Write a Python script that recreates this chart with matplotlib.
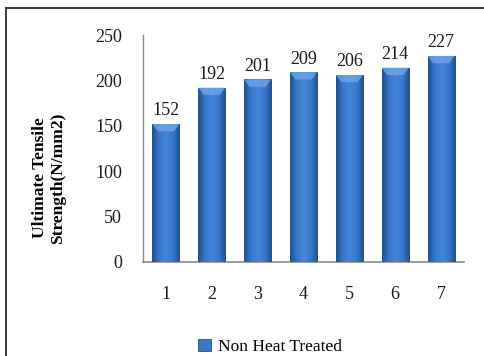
import matplotlib
matplotlib.use("Agg")
import matplotlib.pyplot as plt
import numpy as np
from matplotlib.lines import Line2D
from matplotlib.colors import LinearSegmentedColormap

plt.rcParams['font.family'] = ['Liberation Serif', 'DejaVu Serif']

categories = ["1", "2", "3", "4", "5", "6", "7"]
values = [152, 192, 201, 209, 206, 214, 227]
series_name = "Non Heat Treated"
y_ticks = [0, 50, 100, 150, 200, 250]
y_label = "Ultimate Tensile\nStrength(N/mm2)"

W, H = 485, 356
fig = plt.figure(figsize=(W / 100, H / 100), dpi=100)

# outer chart border (top and left edges visible)
fig.add_artist(Line2D([6 / W, 1.0], [1 - 8 / H, 1 - 8 / H], transform=fig.transFigure,
                      color="#3a3a3a", lw=1.4))
fig.add_artist(Line2D([6.5 / W, 6.5 / W], [0, 1 - 8 / H], transform=fig.transFigure,
                      color="#3a3a3a", lw=1.4))

ax = fig.add_axes([143 / W, (H - 262) / H, (464 - 143) / W, (262 - 35) / H])
x = np.arange(len(categories))
bw = 0.59
bars = ax.bar(x, values, width=bw, color="#3a78c8", edgecolor="#234f8c", linewidth=0.6, zorder=2)

# horizontal shading across each bar
cmap = LinearSegmentedColormap.from_list("barshade", ["#22508c", "#3878cc", "#4486da", "#3878cc", "#22508c"])
grad = np.linspace(0, 1, 64).reshape(1, -1)
for b in bars:
    x0, y0 = b.get_x(), b.get_y()
    w, h = b.get_width(), b.get_height()
    im = ax.imshow(grad, cmap=cmap, extent=[x0, x0 + w, y0, y0 + h], aspect="auto", zorder=3)
    im.set_clip_path(b)
    # light bevel at the top
    ax.fill([x0, x0 + w, x0 + w * 0.8, x0 + w * 0.2],
            [y0 + h, y0 + h, y0 + h - 8, y0 + h - 8],
            color="#6fa6ea", alpha=0.8, zorder=4, lw=0)

for xi, v in zip(x, values):
    ax.text(xi, v + 5, str(v), ha="center", va="bottom", fontsize=13, color="#1a1a1a")

ax.set_xlim(-0.5, len(categories) - 0.5)
ax.set_ylim(0, 250)
ax.set_yticks(y_ticks)
ax.set_xticks(x)
ax.set_xticklabels(categories)
ax.tick_params(axis="both", length=0, labelsize=13, colors="#1a1a1a")
ax.tick_params(axis="y", pad=15)
ax.tick_params(axis="x", pad=17)
for s in ["top", "right"]:
    ax.spines[s].set_visible(False)
ax.spines["left"].set_color("#8c8c8c")
ax.spines["bottom"].set_color("#8c8c8c")
ax.spines["left"].set_linewidth(1.0)
ax.spines["bottom"].set_linewidth(1.2)

fig.text(49 / W, 1 - 178 / H, y_label, rotation=90, ha="center", va="center",
         fontsize=12.5, fontweight="bold", linespacing=1.1)

leg = fig.legend(handles=[bars], labels=[series_name], loc="center",
                 bbox_to_anchor=(270 / W, 1 - 347 / H), frameon=False, fontsize=12.5,
                 handlelength=0.7, handleheight=0.7, handletextpad=0.4)

fig.savefig("out.png", dpi=100)
